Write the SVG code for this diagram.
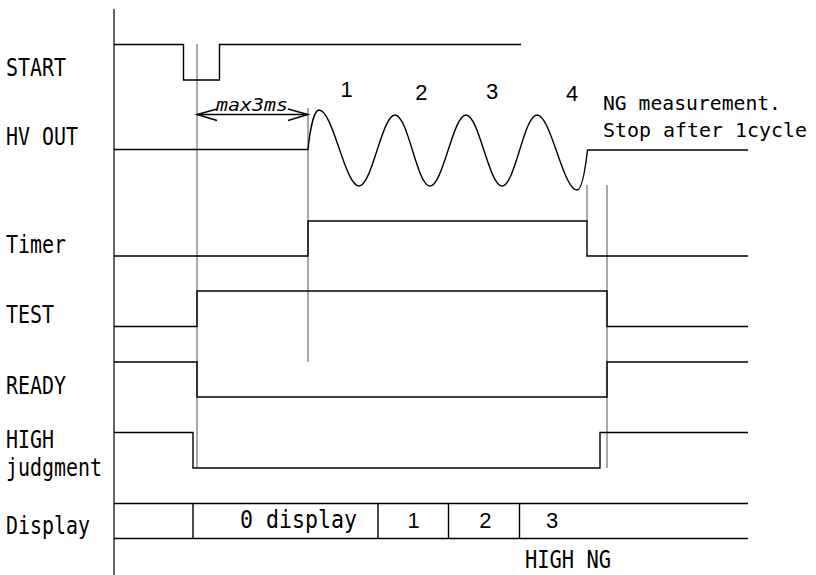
<svg xmlns="http://www.w3.org/2000/svg" width="816" height="575" viewBox="0 0 816 575">
<style>
.sig{fill:none;stroke:#000;stroke-width:1.4;stroke-linejoin:miter}
.guide{fill:none;stroke:#555;stroke-width:1}
.axis{fill:none;stroke:#000;stroke-width:1.2}
.lbl{font-family:"DejaVu Sans Mono","Liberation Mono",monospace;font-size:24px;fill:#000}
.note{font-family:"DejaVu Sans Mono","Liberation Mono",monospace;font-size:20px;fill:#000}
.dig{font-family:"Liberation Sans",Arial,sans-serif;font-size:22px;fill:#000}
.ital{font-family:"DejaVu Sans Mono","Liberation Mono",monospace;font-size:17px;font-style:italic;fill:#000}
</style>
<rect width="816" height="575" fill="#fff"/>
<g id="axis"><line class="axis" x1="114" y1="9" x2="114" y2="575"/></g>
<g id="connectors">
<line class="guide" x1="197" y1="44" x2="197" y2="468"/>
<line class="guide" x1="308" y1="108" x2="308" y2="362"/>
<line class="guide" x1="607" y1="185" x2="607" y2="468"/>
<line class="guide" x1="587" y1="185" x2="587" y2="221"/>
<g id="max3ms">
<line class="sig" stroke-width="1.1" x1="197" y1="114.5" x2="308" y2="114.5"/>
<polyline class="sig" stroke-width="1.1" points="217,109 197,114.5 217,120.5"/>
<polyline class="sig" stroke-width="1.1" points="288,109 308,114.5 288,120.5"/>
<text class="ital" x="216" y="111" textLength="72" lengthAdjust="spacingAndGlyphs">max3ms</text>
</g>
</g>
<g id="start">
<text class="lbl" x="6" y="76" textLength="60" lengthAdjust="spacingAndGlyphs">START</text>
<polyline class="sig" points="114,44.5 183.5,44.5 183.5,80 219.5,80 219.5,44.5 521,44.5"/>
</g>
<g id="hvout">
<text class="lbl" x="6" y="145" textLength="72" lengthAdjust="spacingAndGlyphs">HV OUT</text>
<path class="sig" d="M114,149.5 H308 C310,130 314,110 319,110 C333,110 345,186 359,186 C372,186 382,115 395,115 C408,115 417,186 430,186 C443,186 453,115 466,115 C479,115 489,186 502,186 C515,186 524,115 537,115 C551,115 563,190 577,190 C582,190 585,172 587.5,150 H748"/>
<text class="dig" x="340.6" y="97">1</text>
<text class="dig" x="415.3" y="100">2</text>
<text class="dig" x="486" y="98.5">3</text>
<text class="dig" x="566" y="100.5">4</text>
<text class="note" x="603" y="110" textLength="178" lengthAdjust="spacingAndGlyphs">NG measurement.</text>
<text class="note" x="603" y="137" textLength="204" lengthAdjust="spacingAndGlyphs">Stop after 1cycle</text>
</g>
<g id="timer">
<text class="lbl" x="6" y="253" textLength="60" lengthAdjust="spacingAndGlyphs">Timer</text>
<polyline class="sig" points="114,256 308,256 308,221 587,221 587,256 748,256"/>
</g>
<g id="test">
<text class="lbl" x="6" y="323" textLength="48" lengthAdjust="spacingAndGlyphs">TEST</text>
<polyline class="sig" points="114,326.5 197,326.5 197,291 607,291 607,326.5 748,326.5"/>
</g>
<g id="ready">
<text class="lbl" x="6" y="394" textLength="60" lengthAdjust="spacingAndGlyphs">READY</text>
<polyline class="sig" points="114,362 197,362 197,397 607,397 607,362 748,362"/>
</g>
<g id="highjudgment">
<text class="lbl" x="6" y="448" textLength="48" lengthAdjust="spacingAndGlyphs">HIGH</text>
<text class="lbl" x="6" y="476" textLength="96" lengthAdjust="spacingAndGlyphs">judgment</text>
<polyline class="sig" points="114,432.5 193,432.5 193,468 600,468 600,432.5 748,432.5"/>
</g>
<g id="display">
<text class="lbl" x="6" y="534" textLength="84" lengthAdjust="spacingAndGlyphs">Display</text>
<line class="sig" x1="114" y1="503.5" x2="748" y2="503.5"/>
<line class="sig" x1="114" y1="538.5" x2="748" y2="538.5"/>
<line class="sig" x1="193" y1="503.5" x2="193" y2="538.5"/>
<line class="sig" x1="378" y1="503.5" x2="378" y2="538.5"/>
<line class="sig" x1="448.5" y1="503.5" x2="448.5" y2="538.5"/>
<line class="sig" x1="519.5" y1="503.5" x2="519.5" y2="538.5"/>
<text class="lbl" x="240" y="528" textLength="117" lengthAdjust="spacingAndGlyphs">0 display</text>
<text class="dig" x="407.6" y="528.3">1</text>
<text class="dig" x="479.3" y="528.3">2</text>
<text class="dig" x="546" y="528.3">3</text>
<text class="lbl" x="525" y="568" textLength="86" lengthAdjust="spacingAndGlyphs">HIGH NG</text>
</g>
</svg>
